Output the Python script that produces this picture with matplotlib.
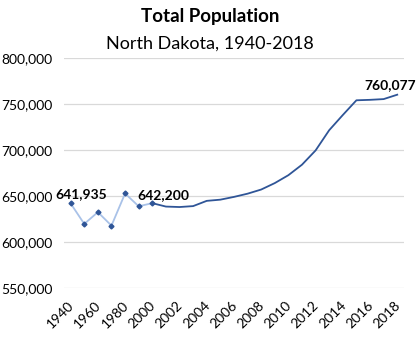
import matplotlib
matplotlib.use("Agg")
import matplotlib.pyplot as plt
from matplotlib.ticker import FuncFormatter
from matplotlib.transforms import ScaledTranslation

plt.rcParams['font.family'] = ['Lato', 'DejaVu Sans']

decade_years = ["1940", "1950", "1960", "1970", "1980", "1990", "2000"]
decade_values = [641935, 619636, 632446, 617761, 652717, 638800, 642200]

annual_years = [str(y) for y in range(2000, 2019)]
annual_values = [642200, 638500, 638000, 639000, 644700, 646000, 649000,
                 652500, 657000, 664000, 672600, 684000, 699500, 721500, 738000,
                 754000, 754500, 755300, 760077]

categories = decade_years + annual_years[1:]
tick_labels = [c if i % 2 == 0 else "" for i, c in enumerate(categories)]

dark = "#2f5597"
light = "#a9c2e8"

fig = plt.figure(figsize=(4.2, 3.37), dpi=100)
ax = fig.add_axes([0.152, 0.1454, 0.81, 0.6826])

xd = list(range(len(decade_years)))
xa = list(range(len(decade_years) - 1, len(categories)))

ax.plot(xd, decade_values, color=light, lw=1.3, zorder=2)
ax.plot(xd, decade_values, ls="none", marker="D", ms=2.5, color=dark, zorder=3)
ax.plot(xa, annual_values, color=dark, lw=1.3, zorder=3)

ax.set_xlim(-0.5, len(categories) - 0.5)
ax.set_ylim(550000, 800000)
ax.set_yticks([550000, 600000, 650000, 700000, 750000, 800000])
ax.yaxis.set_major_formatter(FuncFormatter(lambda v, p: f"{int(v):,}"))
ax.set_xticks(range(len(categories)))
ax.set_xticklabels(tick_labels, rotation=45, ha="right", rotation_mode="anchor")
ax.tick_params(axis="both", length=0, labelsize=10, colors="#000000")
ax.tick_params(axis="x", pad=8)
ax.tick_params(axis="y", pad=8)
shift = ScaledTranslation(-3 / 100, 0, fig.dpi_scale_trans)
for lab in ax.get_xticklabels():
    lab.set_transform(lab.get_transform() + shift)
ax.grid(axis="y", color="#d9d9d9", lw=0.9)
ax.set_axisbelow(True)
for s in ax.spines.values():
    s.set_visible(False)

ax.annotate(f"{decade_values[0]:,}", (xd[0], decade_values[0]), xytext=(7.5, 6.5),
            textcoords="offset points", ha="center", va="center",
            fontsize=10, fontweight="bold")
ax.annotate(f"{decade_values[-1]:,}", (xd[-1], decade_values[-1]), xytext=(8, 6),
            textcoords="offset points", ha="center", va="center",
            fontsize=10, fontweight="bold")
ax.annotate(f"{annual_values[-1]:,}", (xa[-1], annual_values[-1]), xytext=(-5, 7),
            textcoords="offset points", ha="center", va="center",
            fontsize=10, fontweight="bold")

fig.text(0.5, 0.95, "Total Population", ha="center", va="center",
         fontsize=13.5, fontweight="bold")
fig.text(0.5, 0.872, "North Dakota, 1940-2018", ha="center", va="center",
         fontsize=13)

fig.savefig("out.png", dpi=100)
